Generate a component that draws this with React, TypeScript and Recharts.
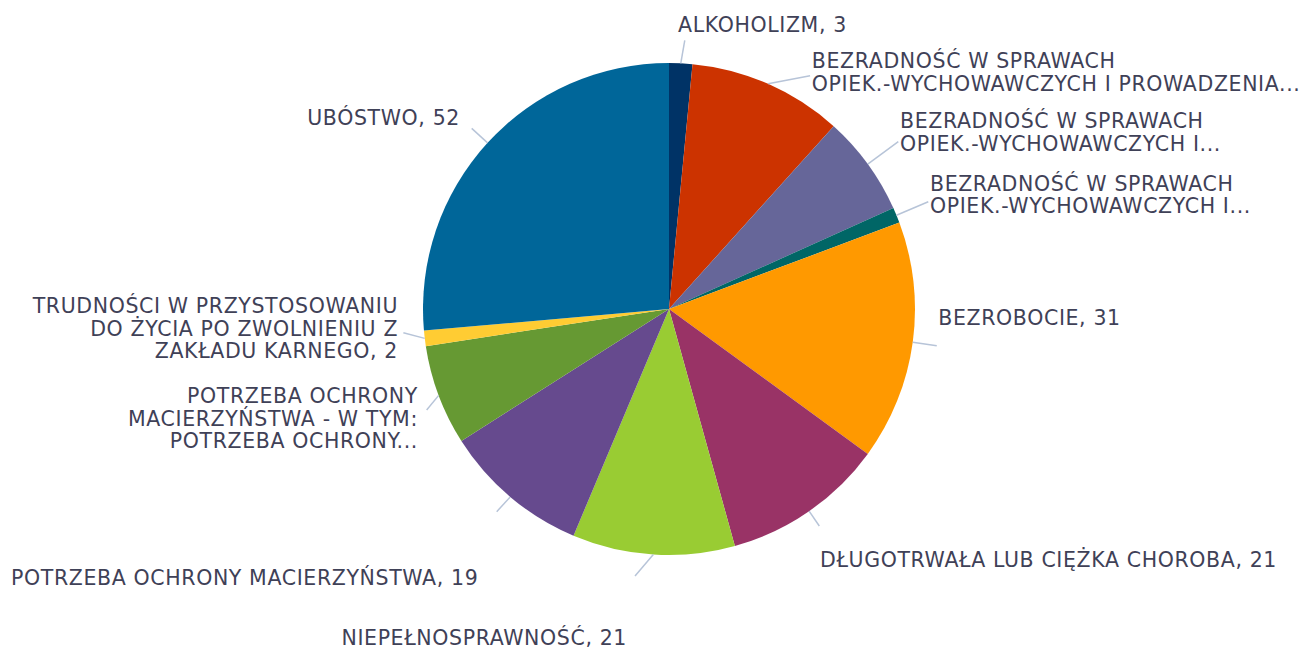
import { PieChart, Pie, Cell } from "recharts";

// slices clockwise from 12 o'clock
const categories = [
  "ALKOHOLIZM",
  "BEZRADNOŚĆ W SPRAWACH OPIEK.-WYCHOWAWCZYCH I PROWADZENIA GOSPODARSTWA DOMOWEGO",
  "BEZRADNOŚĆ W SPRAWACH OPIEK.-WYCHOWAWCZYCH I PROWADZENIA GOSPODARSTWA DOMOWEGO - RODZINY NIEPEŁNE",
  "BEZRADNOŚĆ W SPRAWACH OPIEK.-WYCHOWAWCZYCH I PROWADZENIA GOSPODARSTWA DOMOWEGO - RODZINY WIELODZIETNE",
  "BEZROBOCIE",
  "DŁUGOTRWAŁA LUB CIĘŻKA CHOROBA",
  "NIEPEŁNOSPRAWNOŚĆ",
  "POTRZEBA OCHRONY MACIERZYŃSTWA",
  "POTRZEBA OCHRONY MACIERZYŃSTWA - W TYM: POTRZEBA OCHRONY MACIERZYŃSTWA LUB WIELODZIETNOŚCI",
  "TRUDNOŚCI W PRZYSTOSOWANIU DO ŻYCIA PO ZWOLNIENIU Z ZAKŁADU KARNEGO",
  "UBÓSTWO",
];

const values = [3, 20, 13, 2, 31, 21, 21, 19, 13, 2, 52];

const colors = [
  "#003366", "#CC3300", "#666699", "#006666", "#FF9900", "#993366",
  "#99CC33", "#664A8E", "#669933", "#FFCC33", "#006699",
];

// label text as Excel wraps / truncates it (value appended unless truncated)
const labelLines = [
  ["ALKOHOLIZM"],
  ["BEZRADNOŚĆ W SPRAWACH", "OPIEK.-WYCHOWAWCZYCH I PROWADZENIA..."],
  ["BEZRADNOŚĆ W SPRAWACH", "OPIEK.-WYCHOWAWCZYCH I..."],
  ["BEZRADNOŚĆ W SPRAWACH", "OPIEK.-WYCHOWAWCZYCH I..."],
  ["BEZROBOCIE"],
  ["DŁUGOTRWAŁA LUB CIĘŻKA CHOROBA"],
  ["NIEPEŁNOSPRAWNOŚĆ"],
  ["POTRZEBA OCHRONY MACIERZYŃSTWA"],
  ["POTRZEBA OCHRONY", "MACIERZYŃSTWA - W TYM:", "POTRZEBA OCHRONY..."],
  ["TRUDNOŚCI W PRZYSTOSOWANIU", "DO ŻYCIA PO ZWOLNIENIU Z", "ZAKŁADU KARNEGO"],
  ["UBÓSTWO"],
];

// leader end offset from slice edge (lx, ly), text offset from leader end (tx, ty = first baseline)
const labelLayout = [
  { lx: 4, ly: -23, tx: -6.7, ty: -8.3, anchor: "start" },
  { lx: 42, ly: -8, tx: 1.7, ty: -7.7, anchor: "start" },
  { lx: 30.5, ly: -22.4, tx: 1.7, ty: -13.4, anchor: "start" },
  { lx: 31.8, ly: -13.6, tx: 1.7, ty: -11, anchor: "start" },
  { lx: 24, ly: 3.4, tx: 1.6, ty: -20.7, anchor: "start" },
  { lx: 10.2, ly: 14.8, tx: 0.7, ty: 40.7, anchor: "start" },
  { lx: -18.3, ly: 21.5, tx: -150.8, ty: 69.5, anchor: "middle" },
  { lx: -13.5, ly: 14.8, tx: -18.4, ty: 73.3, anchor: "end" },
  { lx: -12, ly: 14.6, tx: -8.7, ty: -7, anchor: "end" },
  { lx: -21.4, ly: -5.6, tx: -5.3, ty: -19.7, anchor: "end" },
  { lx: -15.9, ly: -14.5, tx: -11.7, ty: -3.3, anchor: "end" },
];

const data = categories.map((name, i) => ({ name, value: values[i] }));

const RAD = Math.PI / 180;
const LINE_H = 22.7;

const renderLabel = (props: any) => {
  const { cx, cy, midAngle, outerRadius, index } = props;
  const ex = cx + outerRadius * Math.cos(-midAngle * RAD);
  const ey = cy + outerRadius * Math.sin(-midAngle * RAD);
  const lay = labelLayout[index];
  const lx = ex + lay.lx;
  const ly = ey + lay.ly;
  const lines = [...labelLines[index]];
  const last = lines[lines.length - 1];
  if (!last.endsWith("...")) lines[lines.length - 1] = `${last}, ${values[index]}`;
  return (
    <g key={`lbl-${index}`}>
      <path d={`M${ex},${ey}L${lx},${ly}`} stroke="#B7C4D8" strokeWidth={1.5} fill="none" />
      <text
        x={lx + lay.tx}
        y={ly + lay.ty}
        textAnchor={lay.anchor}
        fill="#3F4157"
        fontSize={20.5}
        letterSpacing={0.62}
        fontFamily="'DejaVu Sans', sans-serif"
      >
        {lines.map((t, j) => (
          <tspan key={j} x={lx + lay.tx} dy={j === 0 ? 0 : LINE_H}>
            {t}
          </tspan>
        ))}
      </text>
    </g>
  );
};

export default function App() {
  return (
    <div style={{ position: "absolute", left: 0, top: 0, width: 1301, height: 650, background: "#fff" }}>
      <PieChart width={1301} height={650} margin={{ top: 0, right: 0, bottom: 0, left: 0 }}>
        <Pie
          data={data}
          dataKey="value"
          nameKey="name"
          cx={669}
          cy={309}
          outerRadius={246}
          startAngle={90}
          endAngle={-270}
          stroke="none"
          label={renderLabel}
          labelLine={false}
          isAnimationActive={false}
        >
          {data.map((d, i) => (
            <Cell key={d.name} fill={colors[i]} />
          ))}
        </Pie>
      </PieChart>
    </div>
  );
}
